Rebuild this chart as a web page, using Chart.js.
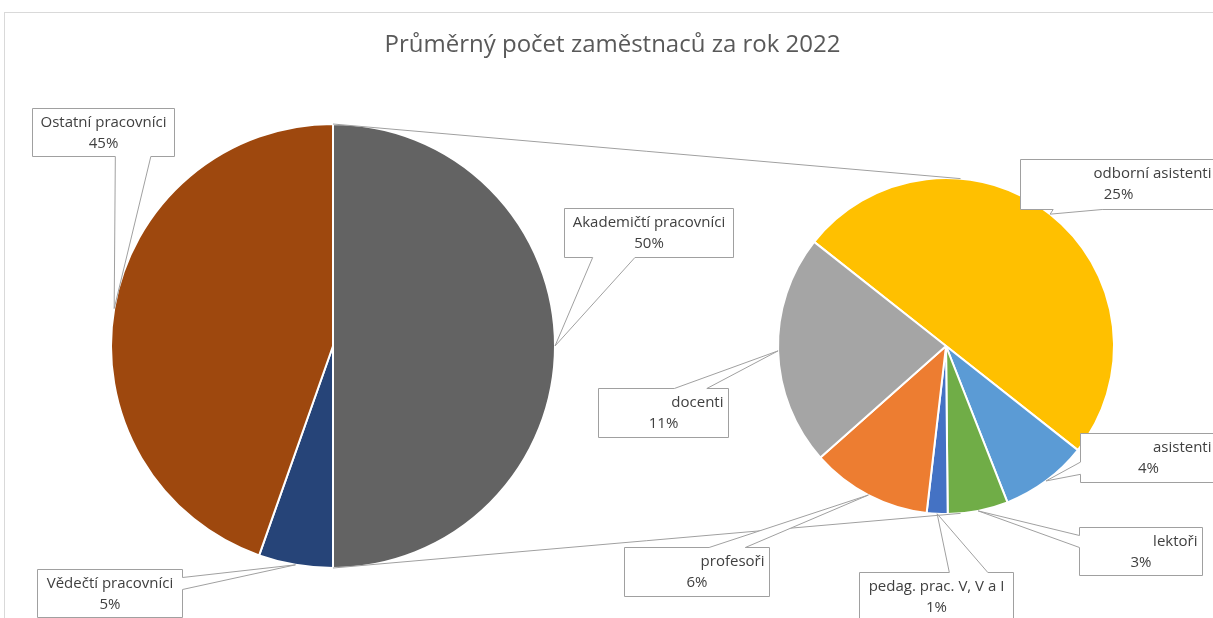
<!DOCTYPE html>
<html>
<head>
<meta charset="utf-8">
<title>Průměrný počet zaměstnaců za rok 2022</title>
<script src="https://cdn.jsdelivr.net/npm/chart.js@4.4.1/dist/chart.umd.min.js"></script>
<style>
  html, body { margin: 0; padding: 0; background: #ffffff; }
  #wrap { position: relative; width: 1213px; height: 618px; overflow: hidden; }
  .layer { position: absolute; left: 0; top: 0; width: 1213px; height: 618px; }
</style>
</head>
<body>
<div id="wrap">
  <div class="layer"><canvas id="chartMain"></canvas></div>
  <div class="layer"><canvas id="chartSplit"></canvas></div>
</div>
<script>
const chartTitle = 'Průměrný počet zaměstnaců za rok 2022';

// share of all employees, %
const splitLabel = 'Akademičtí pracovníci';
const otherLabels = ['Vědečtí pracovníci', 'Ostatní pracovníci'];
const otherValues = [5.4, 44.6];

// breakdown of Akademičtí pracovníci, % of all employees
const splitLabels = ['odborní asistenti', 'asistenti', 'lektoři', 'pedag. prac. V, V a I', 'profesoři', 'docenti'];
const splitValues = [25.0, 4.2, 2.9, 1.0, 5.8, 11.1];

const mainColors = ['#636363', '#264478', '#9e480e'];
const splitColors = ['#ffc000', '#5b9bd5', '#70ad47', '#4472c4', '#ed7d31', '#a5a5a5'];

const splitTotal = splitValues.reduce((a, b) => a + b, 0);
const mainLabels = [splitLabel].concat(otherLabels);
const mainValues = [splitTotal].concat(otherValues);
const grandTotal = mainValues.reduce((a, b) => a + b, 0);

// callout boxes, placed relative to the point on the slice edge
const calloutLayout = {
    'Akademičtí pracovníci': {dx: 9, dy: -138, w: 169, h: 49, align: 'center'},
    'Vědečtí pracovníci': {dx: -259, dy: 4, w: 145, h: 48, align: 'center'},
    'Ostatní pracovníci': {dx: -82, dy: -201, w: 142, h: 48, align: 'center'},
    'odborní asistenti': {dx: -30, dy: -55, w: 196, h: 50, align: 'right'},
    'asistenti': {dx: 34, dy: -48, w: 136, h: 49, align: 'right'},
    'lektoři': {dx: 101, dy: 16, w: 123, h: 48, align: 'right'},
    'pedag. prac. V, V a I': {dx: -78, dy: 58, w: 154, h: 49, align: 'center'},
    'profesoři': {dx: -244, dy: 52, w: 145, h: 49, align: 'right'},
    'docenti': {dx: -180, dy: 37, w: 130, h: 49, align: 'right'}
};

const labelFont = '15px "Open Sans", sans-serif';
const textColor = '#404040';
const lineColor = '#a0a0a0';

function pct(v){
    return Math.round(v / grandTotal * 100) + '%';
}

function edgePoint(arc){
    const mid = (arc.startAngle + arc.endAngle) / 2;
    return {x: arc.x + Math.cos(mid) * arc.outerRadius, y: arc.y + Math.sin(mid) * arc.outerRadius};
}

function drawCallout(ctx, tip, name, value){
    const L = calloutLayout[name];
    const x = Math.round(tip.x + L.dx) + 0.5;
    const y = Math.round(tip.y + L.dy) + 0.5;
    const w = L.w, h = L.h;
    const cx = x + w / 2, cy = y + h / 2;
    const rx = (tip.x - cx) / w, ry = (tip.y - cy) / h;
    let side;
    if (Math.abs(rx) > Math.abs(ry)) side = rx < 0 ? 'left' : 'right';
    else side = ry < 0 ? 'top' : 'bottom';
    const before = (side === 'top' || side === 'bottom') ? tip.x < cx : tip.y < cy;
    const f0 = before ? 1 / 6 : 7 / 12;
    const f1 = before ? 5 / 12 : 5 / 6;

    ctx.beginPath();
    ctx.moveTo(x, y);
    if (side === 'top'){
        ctx.lineTo(x + w * f0, y); ctx.lineTo(tip.x, tip.y); ctx.lineTo(x + w * f1, y);
    }
    ctx.lineTo(x + w, y);
    if (side === 'right'){
        ctx.lineTo(x + w, y + h * f0); ctx.lineTo(tip.x, tip.y); ctx.lineTo(x + w, y + h * f1);
    }
    ctx.lineTo(x + w, y + h);
    if (side === 'bottom'){
        ctx.lineTo(x + w * f1, y + h); ctx.lineTo(tip.x, tip.y); ctx.lineTo(x + w * f0, y + h);
    }
    ctx.lineTo(x, y + h);
    if (side === 'left'){
        ctx.lineTo(x, y + h * f1); ctx.lineTo(tip.x, tip.y); ctx.lineTo(x, y + h * f0);
    }
    ctx.closePath();
    ctx.fillStyle = '#ffffff';
    ctx.fill();
    ctx.strokeStyle = lineColor;
    ctx.lineWidth = 1;
    ctx.stroke();

    ctx.fillStyle = textColor;
    ctx.font = labelFont;
    ctx.textBaseline = 'middle';
    if (L.align === 'right'){
        ctx.textAlign = 'right';
        ctx.fillText(name, x + w - 5, y + 14);
    } else {
        ctx.textAlign = 'center';
        ctx.fillText(name, cx, y + 14);
    }
    ctx.textAlign = 'center';
    ctx.fillText(pct(value), cx, y + 35);
}

function tangentPoint(p, c, r, upper){
    const d = Math.hypot(p.x - c.x, p.y - c.y);
    const a = Math.acos(r / d);
    const phi = Math.atan2(p.y - c.y, p.x - c.x);
    const t = upper ? phi + a : phi - a;
    return {x: c.x + Math.cos(t) * r, y: c.y + Math.sin(t) * r};
}

const overlayPlugin = {
    id: 'overlay',
    afterDraw(chart){
        const main = Chart.getChart('chartMain');
        if (!main) return;
        const ctx = chart.ctx;
        const mainArcs = main.getDatasetMeta(0).data;
        const splitArcs = chart.getDatasetMeta(0).data;
        ctx.save();

        // chart frame
        ctx.strokeStyle = '#d9d9d9';
        ctx.lineWidth = 1;
        ctx.strokeRect(4.5, 12.5, 1400, 800);

        // title
        ctx.fillStyle = '#595959';
        ctx.font = '24px "Open Sans", sans-serif';
        ctx.textAlign = 'center';
        ctx.textBaseline = 'middle';
        ctx.fillText(chartTitle, chart.width / 2 + 6, 45);

        // connector lines between the pies
        const a0 = mainArcs[0];
        const c = {x: splitArcs[0].x, y: splitArcs[0].y};
        const r = splitArcs[0].outerRadius;
        const pTop = {x: a0.x + Math.cos(a0.startAngle) * a0.outerRadius, y: a0.y + Math.sin(a0.startAngle) * a0.outerRadius};
        const pBot = {x: a0.x + Math.cos(a0.endAngle) * a0.outerRadius, y: a0.y + Math.sin(a0.endAngle) * a0.outerRadius};
        const tTop = tangentPoint(pTop, c, r, true);
        const tBot = tangentPoint(pBot, c, r, false);
        ctx.strokeStyle = lineColor;
        ctx.beginPath();
        ctx.moveTo(pTop.x, pTop.y); ctx.lineTo(tTop.x, tTop.y);
        ctx.moveTo(pBot.x, pBot.y); ctx.lineTo(tBot.x, tBot.y);
        ctx.stroke();

        // callouts
        mainArcs.forEach((arc, i) => drawCallout(ctx, edgePoint(arc), mainLabels[i], mainValues[i]));
        splitArcs.forEach((arc, i) => drawCallout(ctx, edgePoint(arc), splitLabels[i], splitValues[i]));
        ctx.restore();
    }
};

function pieOptions(padding, rotation){
    return {
        responsive: true,
        maintainAspectRatio: false,
        animation: false,
        events: [],
        rotation: rotation,
        layout: {padding: padding},
        plugins: {
            legend: {display: false},
            tooltip: {enabled: false},
            title: {display: false}
        }
    };
}

function loadMain(){
    const ctx = document.getElementById('chartMain').getContext('2d');
    const config = {
        type: 'pie',
        data: {
            labels: mainLabels,
            datasets: [{
                data: mainValues,
                backgroundColor: mainColors,
                borderColor: '#ffffff',
                borderWidth: 2
            }]
        },
        options: pieOptions({left: 110, right: 657, top: 123, bottom: 49}, 0)
    };
    new Chart(ctx, config);
}

function loadSplit(){
    const ctx = document.getElementById('chartSplit').getContext('2d');
    const config = {
        type: 'pie',
        data: {
            labels: splitLabels,
            datasets: [{
                data: splitValues,
                backgroundColor: splitColors,
                borderColor: '#ffffff',
                borderWidth: 2
            }]
        },
        options: pieOptions({left: 777, right: 98, top: 177, bottom: 103}, -51.7),
        plugins: [overlayPlugin]
    };
    new Chart(ctx, config);
}

loadMain();
loadSplit();
</script>
</body>
</html>
